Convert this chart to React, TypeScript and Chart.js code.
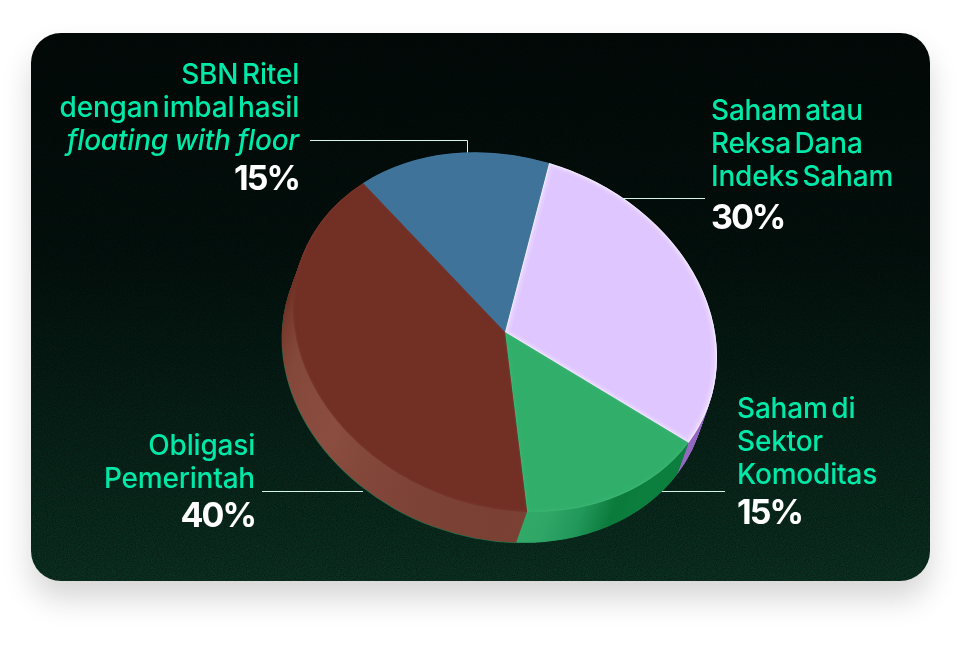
import React, { useEffect, useRef } from "react";
import { Chart, registerables } from "chart.js";

Chart.register(...registerables);

const categories = ["Saham atau Reksa Dana Indeks Saham", "Saham di Sektor Komoditas", "Obligasi Pemerintah", "SBN Ritel dengan imbal hasil floating with floor"];
const shares = [30, 15, 40, 15];
const topColors = ["#e0c6ff", "#31af6a", "#722f24", "#3f7399"];
const glowColors = ["#ffffff", "#5fcf92", "#96594a", "#5d8fb3"];
const glowStrengths = [0.95, 0.3, 0.22, 0.2];
const sideStops: string[][] = [
  ["#9468c0", "#9468c0"],
  ["#32aa69", "#2fa666", "#21975a", "#0b7a3a", "#0c7f3e"],
  ["#703225", "#703225", "#84483a", "#8a4d3f", "#7a4034"],
  ["#355f80", "#355f80"],
];
// the direction each side's shading runs along: horizontal or vertical
const sideVertical = [false, false, true, false];

const labelFont = "Inter";
const green = "#00e9a8";

type Line = { text: string; italic?: boolean };
type Label = { x: number; align: CanvasTextAlign; lines: Line[]; ys: number[]; pct: string; pctY: number };

const labels: Label[] = [
  { x: 299, align: "right", lines: [{ text: "SBN Ritel" }, { text: "dengan imbal hasil" }, { text: "floating with floor", italic: true }], ys: [84, 117, 150], pct: "15%", pctY: 190 },
  { x: 711, align: "left", lines: [{ text: "Saham atau" }, { text: "Reksa Dana" }, { text: "Indeks Saham" }], ys: [120, 153, 186], pct: "30%", pctY: 229 },
  { x: 737, align: "left", lines: [{ text: "Saham di" }, { text: "Sektor" }, { text: "Komoditas" }], ys: [418, 451, 484], pct: "15%", pctY: 524 },
  { x: 255, align: "right", lines: [{ text: "Obligasi" }, { text: "Pemerintah" }], ys: [455, 488], pct: "40%", pctY: 527 },
];

const leaders: number[][][] = [
  [[310, 140.5], [467.5, 140.5], [467.5, 153]],
  [[623, 198.5], [705, 198.5]],
  [[661, 491.5], [725, 491.5]],
  [[262, 491.5], [363, 491.5]],
];

// projection of the pie's circle on the page
const centre = { x: 505, y: 332 };
const axisX = { x: 212, y: 25 };
const axisY = { x: 0, y: 178 };
const depth = { x: -11, y: 31 };

function sector(ctx: CanvasRenderingContext2D, a: any) {
  ctx.beginPath();
  ctx.moveTo(a.x, a.y);
  ctx.arc(a.x, a.y, a.outerRadius, a.startAngle, a.endAngle);
  ctx.closePath();
}

function project(ctx: CanvasRenderingContext2D, a: any, dx = 0, dy = 0) {
  const R = a.outerRadius;
  const m = [axisX.x / R, axisX.y / R, axisY.x / R, axisY.y / R];
  ctx.transform(m[0], m[1], m[2], m[3],
    centre.x + dx - m[0] * a.x - m[2] * a.y,
    centre.y + dy - m[1] * a.x - m[3] * a.y);
}

const piePlugin = {
  id: "tiltedPie",
  beforeDatasetsDraw(chart: any) {
    const ctx: CanvasRenderingContext2D = chart.ctx;
    const arcs = chart.getDatasetMeta(0).data;

    // leader lines
    ctx.save();
    ctx.strokeStyle = "#d4f5e8";
    ctx.lineWidth = 1;
    leaders.forEach((pts) => {
      ctx.beginPath();
      pts.forEach((p, i) => (i ? ctx.lineTo(p[0], p[1]) : ctx.moveTo(p[0], p[1])));
      ctx.stroke();
    });
    ctx.restore();

    // thin green edge below the side
    arcs.forEach((a: any, i: number) => {
      if (i !== 2) return;
      ctx.save();
      project(ctx, a, depth.x - 0.4, depth.y + 0.5);
      ctx.fillStyle = "#17754a";
      sector(ctx, a);
      ctx.fill();
      ctx.restore();
    });

    // pie side
    const steps = 62;
    for (let s = steps; s >= 1; s--) {
      const f = s / steps;
      arcs.forEach((a: any, i: number) => {
        ctx.save();
        project(ctx, a, depth.x * f, depth.y * f);
        const R = a.outerRadius;
        const g = sideVertical[i]
          ? ctx.createLinearGradient(0, a.y - 0.55 * R, 0, a.y + R)
          : ctx.createLinearGradient(a.x + R * 0.05, 0, a.x + R * 0.7, 0);
        const stops = sideStops[i];
        stops.forEach((c, k) => g.addColorStop(k / (stops.length - 1), c));
        ctx.fillStyle = g;
        sector(ctx, a);
        ctx.fill();
        ctx.restore();
      });
    }

    ctx.save();
    project(ctx, arcs[0]);
  },
  afterDatasetsDraw(chart: any) {
    const ctx: CanvasRenderingContext2D = chart.ctx;
    const arcs = chart.getDatasetMeta(0).data;
    // soft bevel inside every slice
    arcs.forEach((a: any, i: number) => {
      ctx.save();
      sector(ctx, a);
      ctx.clip();
      ctx.strokeStyle = glowColors[i];
      const strength = glowStrengths[i];
      [[16, 0.12], [9, 0.18], [3.5, 0.55]].forEach(([w, al]) => {
        ctx.globalAlpha = al * strength;
        ctx.lineWidth = w;
        sector(ctx, a);
        ctx.stroke();
      });
      ctx.restore();
    });
    ctx.restore();

    // labels
    ctx.save();
    ctx.textBaseline = "alphabetic";
    labels.forEach((l) => {
      ctx.textAlign = l.align;
      ctx.fillStyle = green;
      (ctx as any).letterSpacing = "-0.2px";
      l.lines.forEach((line, i) => {
        ctx.font = `${line.italic ? "italic " : ""}500 28px ${labelFont}`;
        (ctx as any).wordSpacing = line.italic ? "-0.5px" : "-3.5px";
        ctx.fillText(line.text, l.x, l.ys[i]);
      });
      ctx.fillStyle = "#ffffff";
      ctx.font = `700 34px ${labelFont}`;
      (ctx as any).wordSpacing = "0px";
      (ctx as any).letterSpacing = "-2px";
      ctx.fillText(l.pct, l.x, l.pctY);
    });
    ctx.restore();
  },
};

const noise =
  "url(\"data:image/svg+xml,%3Csvg xmlns='http://www.w3.org/2000/svg' width='300' height='300'%3E%3Cfilter id='n'%3E%3CfeTurbulence type='fractalNoise' baseFrequency='0.9' numOctaves='2' stitchTiles='stitch'/%3E%3CfeColorMatrix values='0 0 0 0 0 0 0 0 0 0 0 0 0 0 0 0 0 0 1.4 -0.4'/%3E%3C/filter%3E%3Crect width='300' height='300' filter='url(%23n)' opacity='0.55'/%3E%3C/svg%3E\")";

export default function App() {
  const ref = useRef<HTMLCanvasElement>(null);
  useEffect(() => {
    document.body.style.margin = "0";
    const chart = new Chart(ref.current!, {
      type: "pie",
      data: {
        labels: categories,
        datasets: [{ data: shares, backgroundColor: topColors, borderWidth: 0 }],
      },
      options: {
        responsive: false,
        animation: false,
        rotation: 12,
        layout: { padding: 0 },
        plugins: { legend: { display: false }, tooltip: { enabled: false } },
        events: [],
      },
      plugins: [piePlugin],
    } as any);
    return () => chart.destroy();
  }, []);
  return (
    <div style={{ position: "relative", width: 964, height: 646, background: "#fff", overflow: "hidden" }}>
      <div
        style={{
          position: "absolute",
          left: 31,
          top: 33,
          width: 899,
          height: 548,
          borderRadius: 30,
          backgroundImage: `${noise}, linear-gradient(180deg, #020a08 0%, #03110d 40%, #072319 72%, #0c3324 100%)`,
          boxShadow: "0 18px 30px rgba(0,0,0,0.16)",
        }}
      />
      <canvas ref={ref} width={964} height={646} style={{ position: "absolute", left: 0, top: 0 }} />
    </div>
  );
}
